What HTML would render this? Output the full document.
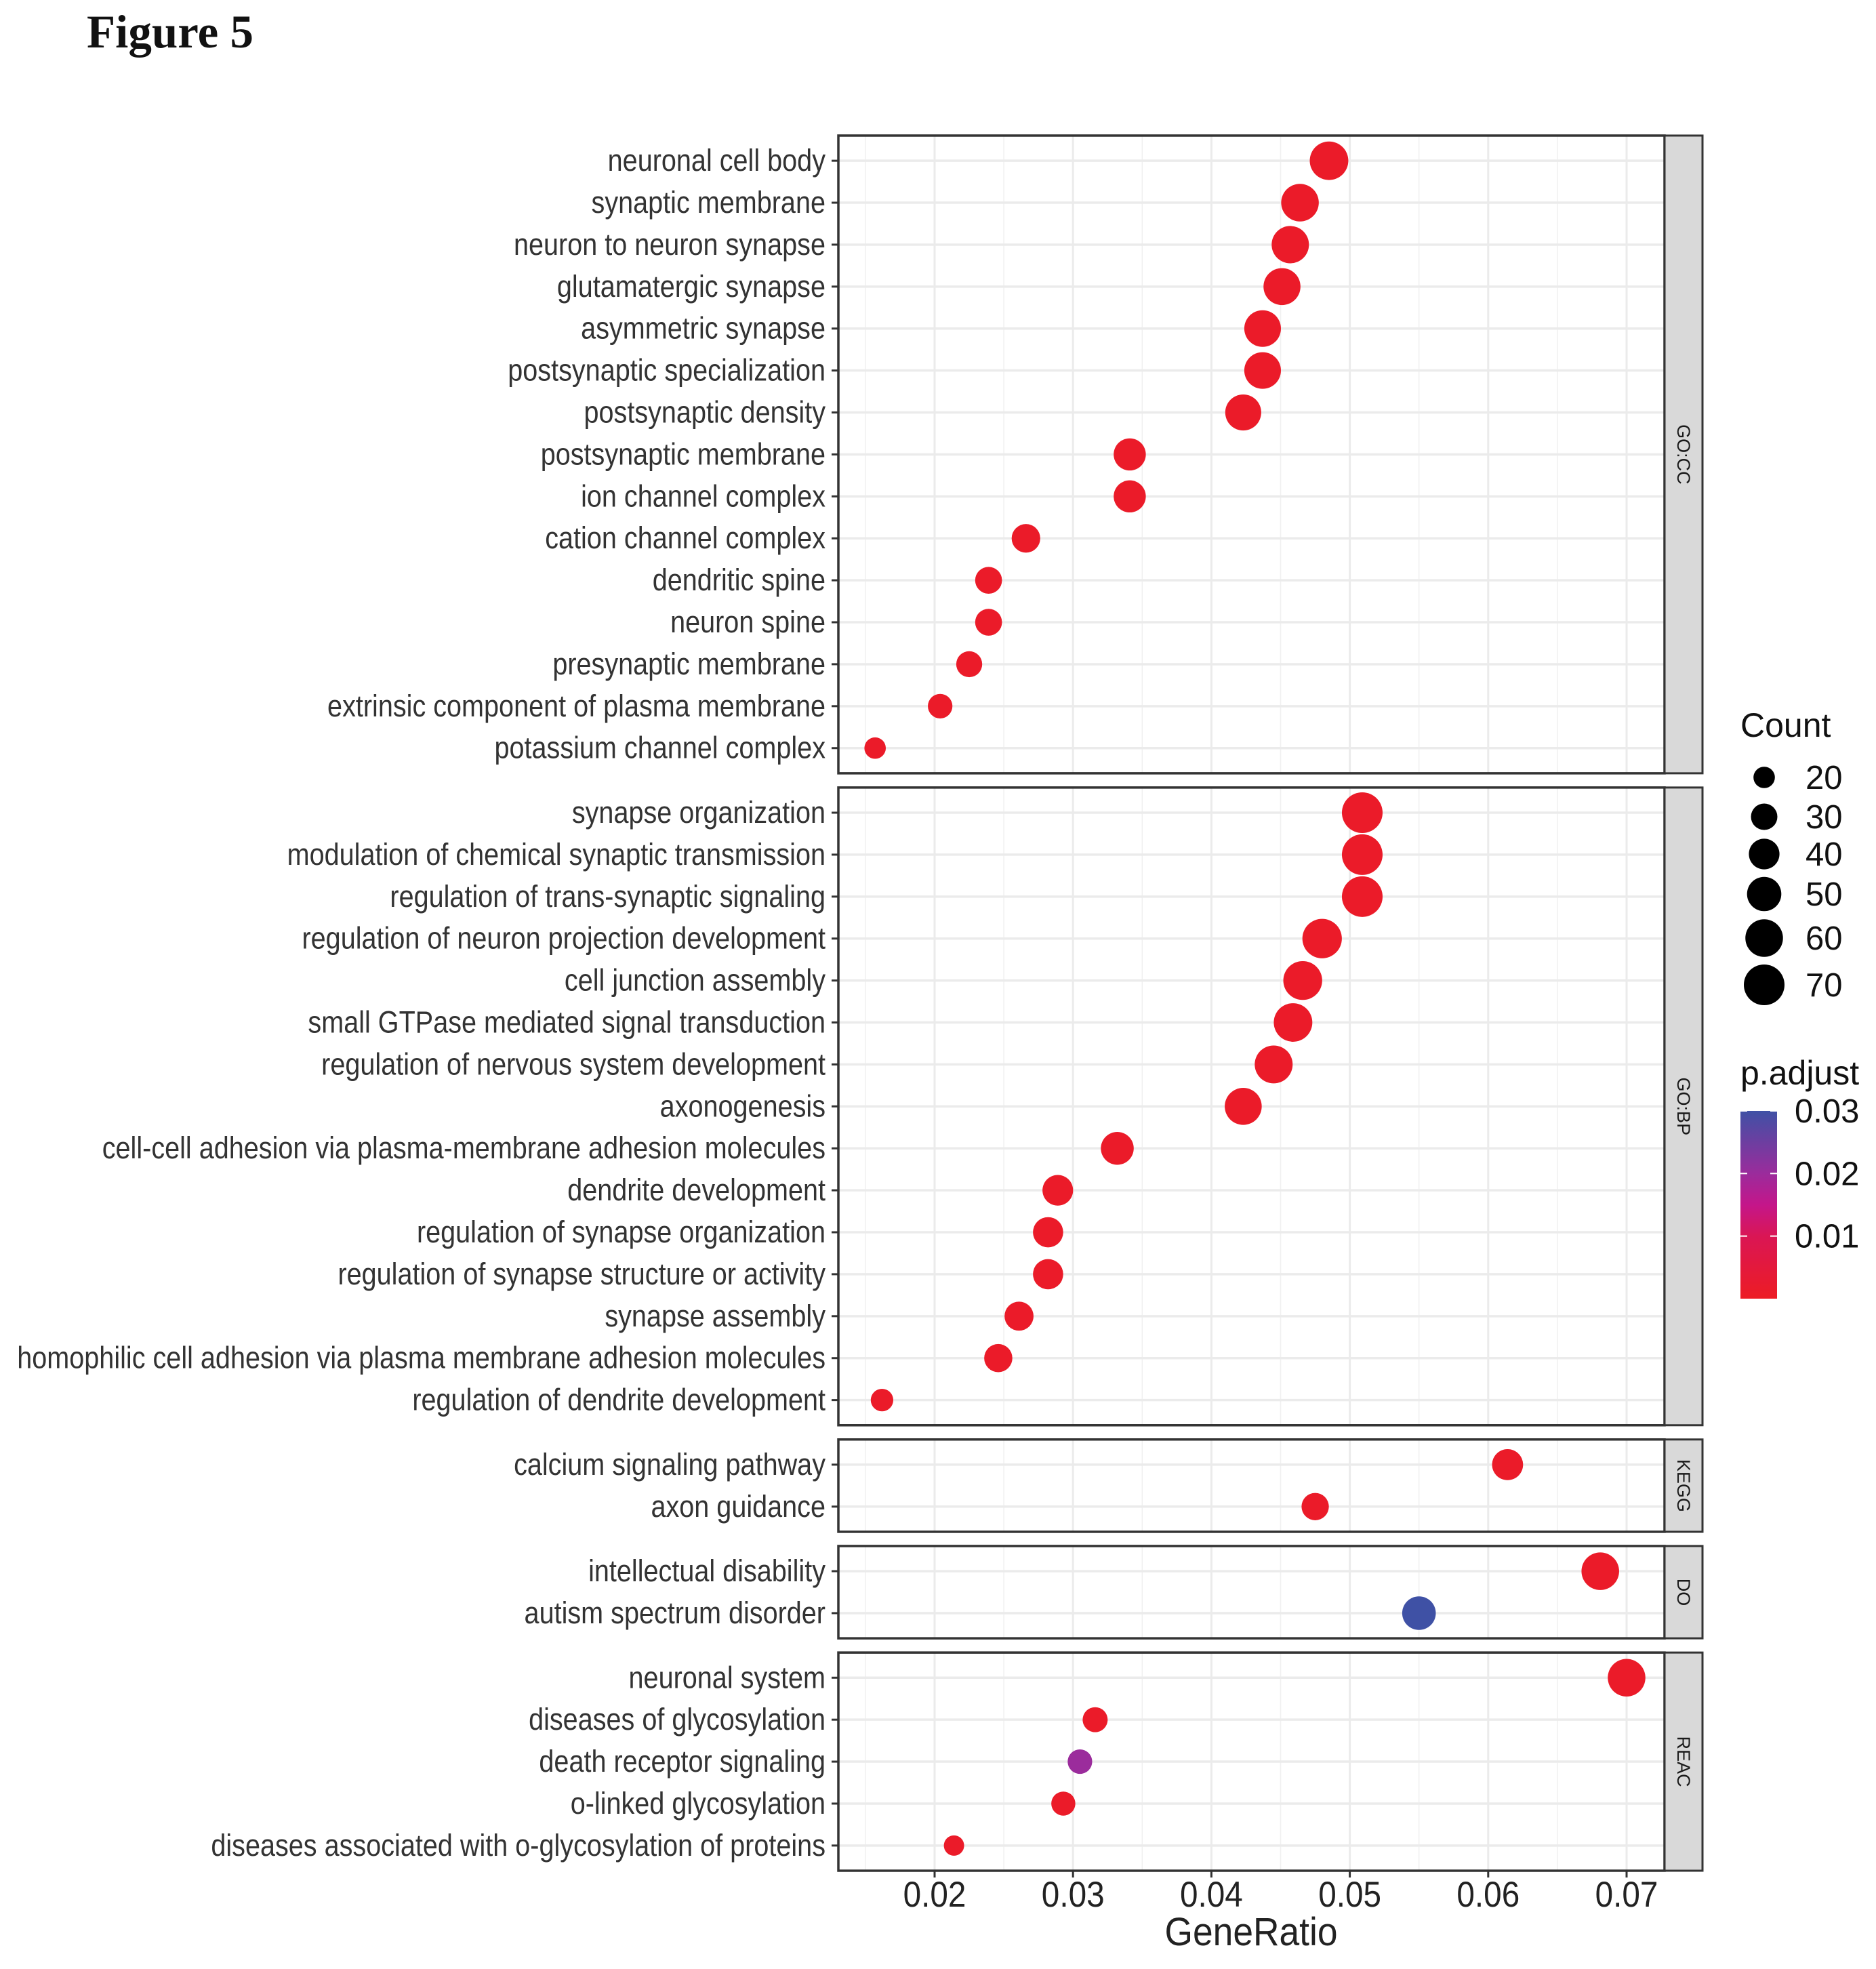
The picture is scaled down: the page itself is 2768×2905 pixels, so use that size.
<!DOCTYPE html>
<html><head><meta charset="utf-8">
<style>
html,body{margin:0;padding:0;background:#fff;}
svg{display:block;}
</style></head>
<body>
<svg id="chart" width="2768" height="2905" viewBox="0 0 2768 2905" xmlns="http://www.w3.org/2000/svg">
<text x="128" y="70" font-family="Liberation Serif, serif" font-weight="bold" font-size="69" fill="#111">Figure 5</text>
<defs>
<linearGradient id="padjGrad" x1="0" y1="1" x2="0" y2="0">
<stop offset="0" stop-color="#ED1C24"/>
<stop offset="0.33" stop-color="#DA1654"/>
<stop offset="0.5" stop-color="#C4168A"/>
<stop offset="0.67" stop-color="#9A2C9C"/>
<stop offset="1" stop-color="#3F51A5"/>
</linearGradient>
</defs>
<g id="plot"></g>
</svg>
<script>
// ---- data ----
const panelNames = ["GO:CC","GO:BP","KEGG","DO","REAC"];
const ccTerms = ["neuronal cell body","synaptic membrane","neuron to neuron synapse","glutamatergic synapse","asymmetric synapse","postsynaptic specialization","postsynaptic density","postsynaptic membrane","ion channel complex","cation channel complex","dendritic spine","neuron spine","presynaptic membrane","extrinsic component of plasma membrane","potassium channel complex"];
const ccRatio = [0.0485,0.0464,0.0457,0.0451,0.0437,0.0437,0.0423,0.0341,0.0341,0.0266,0.0239,0.0239,0.0225,0.0204,0.0157];
const ccCount = [63,60,59,58,57,57,55,44,44,35,31,31,29,26,20];
const ccPadj = [0.001,0.001,0.001,0.001,0.001,0.001,0.001,0.001,0.001,0.001,0.001,0.001,0.001,0.001,0.001];
const bpTerms = ["synapse organization","modulation of chemical synaptic transmission","regulation of trans-synaptic signaling","regulation of neuron projection development","cell junction assembly","small GTPase mediated signal transduction","regulation of nervous system development","axonogenesis","cell-cell adhesion via plasma-membrane adhesion molecules","dendrite development","regulation of synapse organization","regulation of synapse structure or activity","synapse assembly","homophilic cell adhesion via plasma membrane adhesion molecules","regulation of dendrite development"];
const bpRatio = [0.0509,0.0509,0.0509,0.0480,0.0466,0.0459,0.0445,0.0423,0.0332,0.0289,0.0282,0.0282,0.0261,0.0246,0.0162];
const bpCount = [70,70,70,66,64,63,61,58,46,40,39,39,36,34,22];
const bpPadj = [0.001,0.001,0.001,0.001,0.001,0.001,0.001,0.001,0.001,0.001,0.001,0.001,0.001,0.001,0.001];
const keggTerms = ["calcium signaling pathway","axon guidance"];
const keggRatio = [0.0614,0.0475];
const keggCount = [41,32];
const keggPadj = [0.001,0.001];
const doTerms = ["intellectual disability","autism spectrum disorder"];
const doRatio = [0.0681,0.0550];
const doCount = [60,48];
const doPadj = [0.001,0.030];
const reacTerms = ["neuronal system","diseases of glycosylation","death receptor signaling","o-linked glycosylation","diseases associated with o-glycosylation of proteins"];
const reacRatio = [0.0700,0.0316,0.0305,0.0293,0.0214];
const reacCount = [60,27,26,25,18];
const reacPadj = [0.001,0.001,0.020,0.001,0.001];
const xTicks = [0.02,0.03,0.04,0.05,0.06,0.07];
const xMinor = [0.015,0.025,0.035,0.045,0.055,0.065];
const countLegend = [20,30,40,50,60,70];
const padjTicks = [0.01,0.02,0.03];

const panels = [
 {terms:ccTerms,ratio:ccRatio,count:ccCount,padj:ccPadj},
 {terms:bpTerms,ratio:bpRatio,count:bpCount,padj:bpPadj},
 {terms:keggTerms,ratio:keggRatio,count:keggCount,padj:keggPadj},
 {terms:doTerms,ratio:doRatio,count:doCount,padj:doPadj},
 {terms:reacTerms,ratio:reacRatio,count:reacCount,padj:reacPadj}
];

// ---- geometry ----
const NS="http://www.w3.org/2000/svg";
const plotG=document.getElementById('plot');
const PL=1237, PR=2456, SR=2512, TOP0=200, STEP=61.9, GAP=21;
function xScale(v){return 1379+(v-0.02)*20420;}
function rScale(c){return Math.sqrt(Math.max(13*c-10,20));}
function hex(c){return [parseInt(c.slice(1,3),16),parseInt(c.slice(3,5),16),parseInt(c.slice(5,7),16)];}
const gstops=[[0,"#ED1C24"],[0.33,"#DA1654"],[0.5,"#C4168A"],[0.67,"#9A2C9C"],[1,"#3F51A5"]];
function colorScale(p){
  let t=Math.min(1,Math.max(0,p/0.03));
  for(let i=1;i<gstops.length;i++){
    if(t<=gstops[i][0]){
      const a=gstops[i-1],b=gstops[i];const f=(t-a[0])/(b[0]-a[0]);
      const ca=hex(a[1]),cb=hex(b[1]);
      return 'rgb('+ca.map((v,k)=>Math.round(v+(cb[k]-v)*f)).join(',')+')';
    }
  }
  return gstops[gstops.length-1][1];
}
function el(tag,attrs,parent){const e=document.createElementNS(NS,tag);for(const k in attrs)e.setAttribute(k,attrs[k]);(parent||plotG).appendChild(e);return e;}

let curTop=TOP0;
panels.forEach((p,pi)=>{
  const n=p.terms.length;
  const h=(n-1+1.2)*STEP;
  const bottom=curTop+h;
  const pg=el('g',{});
  
  
  el('rect',{x:PL,y:curTop,width:PR-PL,height:h,fill:'#fff'},pg);
  xMinor.forEach(v=>{const l=el('line',{x1:xScale(v),x2:xScale(v),y1:curTop,y2:bottom,stroke:'#F0F0F0','stroke-width':1.5},pg);
    
    });
  xTicks.forEach(v=>{const l=el('line',{x1:xScale(v),x2:xScale(v),y1:curTop,y2:bottom,stroke:'#EBEBEB','stroke-width':3},pg);
    
    });
  p.terms.forEach((t,i)=>{
    const y=curTop+0.6*STEP+i*STEP;
    el('line',{x1:PL,x2:PR,y1:y,y2:y,stroke:'#EBEBEB','stroke-width':3.5},pg);
    const tk=el('line',{x1:PL-10,x2:PL,y1:y,y2:y,stroke:'#333','stroke-width':3},pg);
    
    
    const tx=el('text',{transform:'translate(1218,'+(y+15)+') scale(0.88,1)','text-anchor':'end','font-family':'Liberation Sans, sans-serif','font-size':45,fill:'#333'},pg);
    tx.textContent=t;
    
    
  });
  p.terms.forEach((t,i)=>{
    const y=curTop+0.6*STEP+i*STEP;
    const c=el('circle',{cx:xScale(p.ratio[i]),cy:y,r:rScale(p.count[i]),fill:colorScale(p.padj[i])},pg);
    
    
  });
  const b=el('rect',{x:PL,y:curTop,width:PR-PL,height:h,fill:'none',stroke:'#333','stroke-width':3.5},pg);
  
  
  const s=el('rect',{x:PR,y:curTop,width:SR-PR,height:h,fill:'#D9D9D9',stroke:'#333','stroke-width':3},pg);
  
  
  const cy=(curTop+bottom)/2, cx=(PR+SR)/2;
  const st=el('text',{x:cx,y:cy,transform:'rotate(90 '+cx+' '+cy+')','text-anchor':'middle','dominant-baseline':'central','font-family':'Liberation Sans, sans-serif','font-size':27,fill:'#1A1A1A'},pg);
  st.textContent=panelNames[pi];
  
  
  curTop=bottom+GAP;
});
const axisY=curTop-GAP;
xTicks.forEach(v=>{
  const tk=el('line',{x1:xScale(v),x2:xScale(v),y1:axisY,y2:axisY+10,stroke:'#333','stroke-width':3});
  
  
  const t=el('text',{transform:'translate('+xScale(v)+','+(axisY+53)+') scale(0.9,1)','text-anchor':'middle','font-family':'Liberation Sans, sans-serif','font-size':53,fill:'#222'});
  t.textContent=v.toFixed(2);
  
  
});
const xt=el('text',{transform:'translate(1846,2870) scale(0.92,1)','text-anchor':'middle','font-family':'Liberation Sans, sans-serif','font-size':58,fill:'#222'});
xt.textContent='GeneRatio';



// count legend
const cl=el('g',{});


const ct=el('text',{x:2568,y:1087,'font-family':'Liberation Sans, sans-serif','font-size':50,fill:'#111'},cl);
ct.textContent='Count';


const legY=[1147,1205,1260,1319,1384,1453];
countLegend.forEach((c,i)=>{
  const e=el('circle',{cx:2603,cy:legY[i],r:rScale(c),fill:'#000'},cl);
  
  
  const t=el('text',{x:2664,y:legY[i]+17,'font-family':'Liberation Sans, sans-serif','font-size':49,fill:'#111'},cl);
  t.textContent=c;
  
  
});
// p.adjust legend
const pl=el('g',{});


const pt=el('text',{x:2568,y:1600,'font-family':'Liberation Sans, sans-serif','font-size':50,fill:'#111'},pl);
pt.textContent='p.adjust';


const barTop=1639, barBot=1916;
const cb=el('rect',{x:2568,y:barTop,width:54,height:barBot-barTop,fill:'url(#padjGrad)'},pl);


function pY(p){return barBot-(p/0.03)*(barBot-barTop);}
padjTicks.forEach(p=>{
  const y=pY(p);
  el('line',{x1:2568,x2:2578,y1:y,y2:y,stroke:'#fff','stroke-width':2},pl);
  el('line',{x1:2612,x2:2622,y1:y,y2:y,stroke:'#fff','stroke-width':2},pl);
  const t=el('text',{x:2648,y:y+17,'font-family':'Liberation Sans, sans-serif','font-size':49,fill:'#111'},pl);
  t.textContent=p.toFixed(2);
  
  
});
</script>
</body></html>
